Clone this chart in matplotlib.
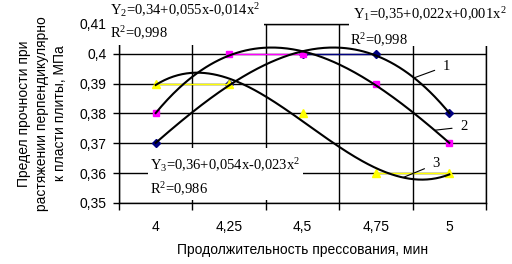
import numpy as np
import matplotlib.pyplot as plt
from matplotlib.patches import Rectangle

# data
times = ['4', '4,25', '4,5', '4,75', '5']
y1 = [0.37, 0.39, 0.40, 0.40, 0.38]
y2 = [0.38, 0.40, 0.40, 0.39, 0.37]
y3 = [0.39, 0.39, 0.38, 0.36, 0.36]
yticks = [0.35, 0.36, 0.37, 0.38, 0.39, 0.40, 0.41]
ytick_labels = ['0,35', '0,36', '0,37', '0,38', '0,39', '0,4', '0,41']

eq1 = 'Y$\\mathregular{_1}$=0,35+0,022x+0,001x$\\mathregular{^2}$'
eq2 = 'Y$\\mathregular{_2}$=0,34+0,055x-0,014x$\\mathregular{^2}$'
eq3 = 'Y$\\mathregular{_3}$=0,36+0,054x-0,023x$\\mathregular{^2}$'
r1 = 'R$\\mathregular{^2}$=0,998'
r2 = 'R$\\mathregular{^2}$=0,998'
r3 = 'R$\\mathregular{^2}$=0,986'

W, H = 512, 264
fig = plt.figure(figsize=(W / 100, H / 100), dpi=100)
ax = fig.add_axes([119 / W, 1 - 203 / H, (486 - 119) / W, (203 - 24) / H])

x = np.arange(len(times))
ax.set_xlim(-0.5, len(times) - 0.5)
ax.set_ylim(0.35, 0.41)

# grid & frame
ax.set_axisbelow(True)
ax.set_yticks(yticks)
ax.set_yticklabels(ytick_labels, fontsize=10, family='Liberation Sans')
ax.set_xticks(x)
ax.set_xticklabels(times, fontsize=10, family='Liberation Sans')
ax.set_xticks(np.arange(len(times) + 1) - 0.5, minor=True)
ax.tick_params(axis='x', which='major', length=0, pad=12)
ax.tick_params(axis='x', which='minor', length=5, width=1, direction='out')
ax.tick_params(axis='y', length=4, width=1, pad=5, direction='out')
ax.grid(True, axis='y', which='major', color='black', lw=1)
ax.grid(True, axis='x', which='minor', color='black', lw=1)
for s in ax.spines.values():
    s.set_linewidth(1)
    s.set_zorder(0.6)

# white label boxes
for (px, py, pw, ph) in [(106, 0, 158, 45), (349, 0, 163, 46), (148, 148, 155, 52)]:
    ax.add_patch(Rectangle((px / W, 1 - (py + ph) / H), pw / W, ph / H,
                           transform=fig.transFigure, facecolor='white',
                           edgecolor='none', zorder=1, clip_on=False))

# series: markers, and the connecting segments that stay visible (level ones)
styles = [('#000080', 'D', 4.5), ('#FF00FF', 's', 4.5), ('#FFFF00', '^', 6)]
for ys, (c, m, ms) in zip((y1, y2, y3), styles):
    for i in range(len(ys) - 1):
        if ys[i] == ys[i + 1]:
            ax.plot(x[i:i + 2], ys[i:i + 2], color=c, lw=1, zorder=2)
    ax.plot(x, ys, color=c, marker=m, ms=ms, ls='none', zorder=2)

# trend lines
xs = np.linspace(0, len(times) - 1, 200)
trends = []
for ys in (y1, y2, y3):
    p = np.poly1d(np.polyfit(x, ys, 3))
    trends.append(p)
    ax.plot(xs, p(xs), color='black', lw=1.5, zorder=3)

# curve numbers
for n, (xa, tx, ty) in enumerate([(3.52, 3.96, 0.3959),
                                  (3.80, 4.20, 0.3755),
                                  (3.37, 3.82, 0.3631)]):
    p = trends[n]
    ax.annotate(str(n + 1), xy=(xa, p(xa)), xytext=(tx, ty), ha='center', va='center',
                fontsize=10.5, family='Liberation Serif', zorder=4,
                arrowprops=dict(arrowstyle='-', color='black', lw=0.8,
                                shrinkA=4, shrinkB=0))

# equations
tk = dict(fontsize=10.5, family='Liberation Serif', va='center', ha='left', zorder=5)
fig.text(110 / W, 1 - 10 / H, eq2, **tk)
fig.text(110 / W, 1 - 33 / H, r2, **tk)
fig.text(353 / W, 1 - 14 / H, eq1, **tk)
fig.text(350 / W, 1 - 40 / H, r1, **tk)
fig.text(150 / W, 1 - 165 / H, eq3, **tk)
fig.text(150 / W, 1 - 189 / H, r3, **tk)

ax.set_ylabel('Предел прочности при\nрастяжении перпендикулярно\nк пласти плиты, МПа',
              fontsize=10, family='Liberation Sans', labelpad=9, linespacing=1.35)
ax.set_xlabel('Продолжительность прессования, мин', fontsize=10,
              family='Liberation Sans', labelpad=7)

fig.savefig('out.png', dpi=100)
